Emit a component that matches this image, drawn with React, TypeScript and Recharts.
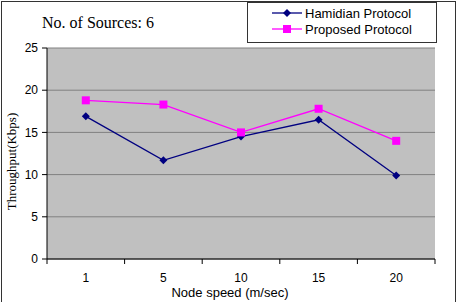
import React from 'react';
import {
  LineChart, Line, XAxis, YAxis, CartesianGrid,
} from 'recharts';

const speeds = ['1', '5', '10', '15', '20'];
const hamidian = [16.9, 11.7, 14.5, 16.5, 9.9];
const proposed = [18.8, 18.3, 15.0, 17.8, 14.0];
const yTicks = [0, 5, 10, 15, 20, 25];

const series = [
  { key: 'hamidian', name: 'Hamidian Protocol', color: '#000080', shape: 'diamond' },
  { key: 'proposed', name: 'Proposed Protocol', color: '#FF00FF', shape: 'square' },
];

const data = speeds.map((s, i) => ({
  speed: s,
  hamidian: hamidian[i],
  proposed: proposed[i],
}));

const sans = '"Liberation Sans", Arial, sans-serif';
const serif = '"Liberation Serif", "Times New Roman", serif';

const Marker = ({ cx, cy, shape, color }: any) => {
  if (cx == null || cy == null) return null;
  if (shape === 'square') {
    return <rect x={cx - 4} y={cy - 4} width={8} height={8} fill={color} />;
  }
  return (
    <polygon
      points={`${cx},${cy - 4} ${cx + 4},${cy} ${cx},${cy + 4} ${cx - 4},${cy}`}
      fill={color}
    />
  );
};

// category label in the middle, tick marks on the category borders
const SpeedTick = ({ x, y, payload, index }: any) => {
  const half = payload.offset || 0;
  return (
    <g>
      {index === 0 && (
        <line x1={x - half} y1={y - 8} x2={x - half} y2={y - 3} stroke="#000" />
      )}
      <line x1={x + half} y1={y - 8} x2={x + half} y2={y - 3} stroke="#000" />
      <text x={x} y={y + 15} textAnchor="middle" fontSize={12} fontFamily={sans} fill="#000">
        {payload.value}
      </text>
    </g>
  );
};

const LegendBox = () => (
  <div
    style={{
      position: 'absolute', left: 247, top: 2, width: 188, height: 39,
      border: '1px solid #333', background: '#fff',
    }}
  >
    {series.map((s, i) => (
      <div
        key={s.key}
        style={{
          position: 'absolute', left: 23, top: 2 + i * 16, height: 16,
          display: 'flex', alignItems: 'center',
          fontFamily: sans, fontSize: 13, color: '#000', whiteSpace: 'nowrap',
        }}
      >
        <svg width={32} height={16}>
          <line x1={1} y1={8} x2={31} y2={8} stroke={s.color} strokeWidth={1.3} />
          <Marker cx={16} cy={8} shape={s.shape} color={s.color} />
        </svg>
        <span style={{ marginLeft: 2 }}>{s.name}</span>
      </div>
    ))}
  </div>
);

export default function App() {
  return (
    <div style={{ position: 'absolute', left: 0, top: 0, width: 459, height: 302, background: '#fff', overflow: 'hidden' }}>
      <div
        style={{
          position: 'absolute', left: 1, top: 1, width: 453, height: 310,
          border: '1px solid #333',
        }}
      />
      <div
        style={{
          position: 'absolute', left: 42, top: 14, fontFamily: serif, fontSize: 16, color: '#000',
        }}
      >
        No. of Sources: 6
      </div>
      <LineChart
        width={459}
        height={302}
        data={data}
        margin={{ top: 48, right: 24, bottom: 0, left: 0 }}
        style={{ position: 'absolute', left: 0, top: 0 }}
      >
        <CartesianGrid vertical={false} fill="#c0c0c0" stroke="#808080" strokeWidth={1} fillOpacity={1} />
        <XAxis
          dataKey="speed"
          scale="band"
          height={43}
          axisLine={{ stroke: '#000' }}
          tickLine={false}
          tick={<SpeedTick />}
          interval={0}
          label={{
            value: 'Node speed (m/sec)', position: 'insideBottom', offset: 5, dx: -11,
            style: { fontFamily: sans, fontSize: 13, fill: '#000' },
          }}
        />
        <YAxis
          width={47}
          domain={[0, 25]}
          ticks={yTicks}
          interval={0}
          axisLine={{ stroke: '#000' }}
          tickLine={{ stroke: '#000' }}
          tickSize={5}
          tickMargin={4}
          tick={{ fontFamily: sans, fontSize: 12, fill: '#000' }}
          label={{
            value: 'Throughput(Kbps)', angle: -90, position: 'insideLeft', dx: 6, dy: 8,
            style: { fontFamily: serif, fontSize: 13, fill: '#000', textAnchor: 'middle' },
          }}
        />
        <YAxis
          yAxisId="edge"
          orientation="right"
          width={0}
          domain={[0, 25]}
          tick={false}
          tickLine={false}
          axisLine={{ stroke: '#808080' }}
        />
        {series.map((s) => (
          <Line
            key={s.key}
            dataKey={s.key}
            name={s.name}
            stroke={s.color}
            strokeWidth={1.3}
            dot={(p: any) => <Marker key={`${s.key}-${p.index}`} cx={p.cx} cy={p.cy} shape={s.shape} color={s.color} />}
            activeDot={false}
            isAnimationActive={false}
          />
        ))}
      </LineChart>
      <LegendBox />
    </div>
  );
}
